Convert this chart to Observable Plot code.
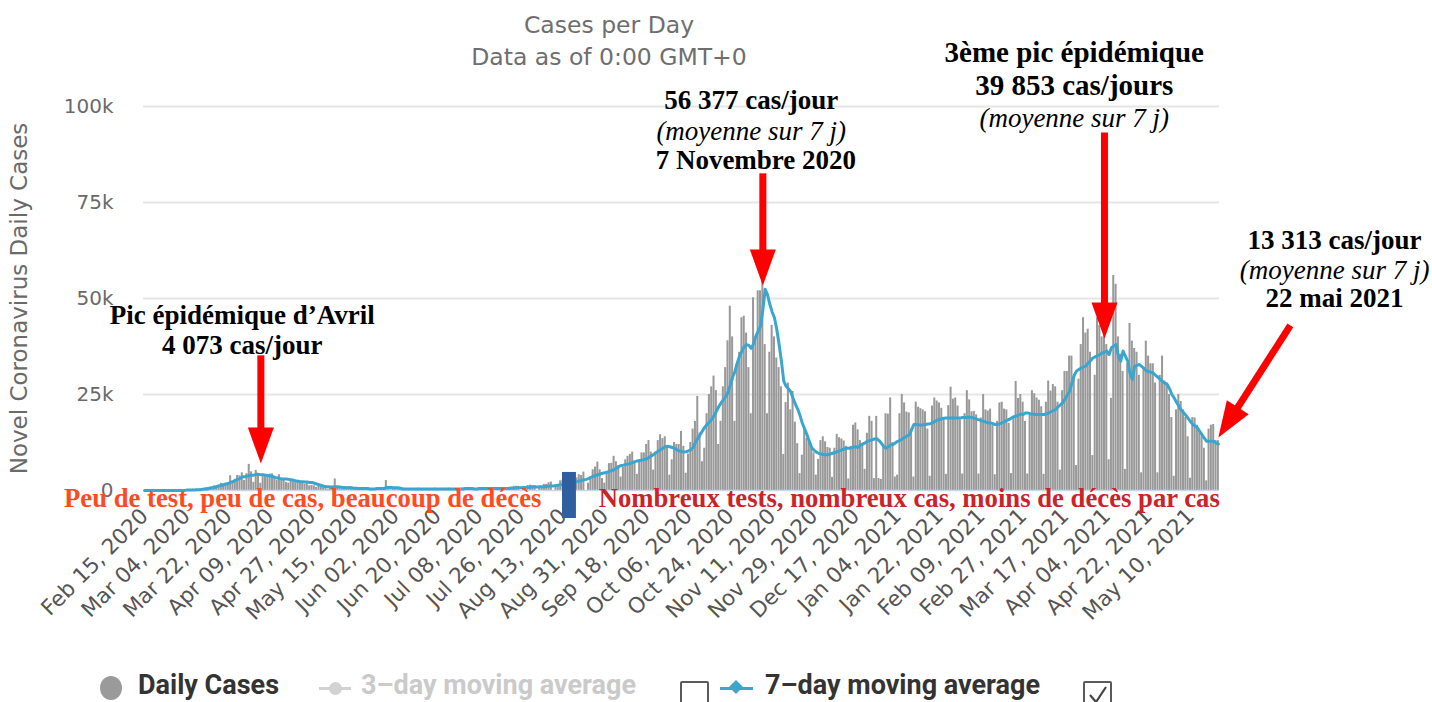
<!DOCTYPE html>
<html><head><meta charset="utf-8">
<script src="https://cdn.jsdelivr.net/npm/d3@7"></script>
<script src="https://cdn.jsdelivr.net/npm/@observablehq/plot@0.6"></script>
<style>
body{margin:0;background:#fff;}
#wrap{position:relative;width:1432px;height:702px;overflow:hidden;font-family:"DejaVu Sans",sans-serif;}
#wrap svg{position:absolute;left:0;top:0;}
.title{position:absolute;left:359px;width:500px;text-align:center;color:#6e6e6e;font-size:23.5px;line-height:28px;white-space:nowrap;}
.lt{position:absolute;top:671px;font:bold 27px Roboto,sans-serif;line-height:28px;white-space:nowrap;}
.abs{position:absolute;}
.cb{position:absolute;top:681px;width:25px;height:25px;border:2px solid #5a5a5a;border-radius:2px;background:#fff;}
</style></head>
<body><div id="wrap">
<div class="title" style="top:11px">Cases per Day</div>
<div class="title" style="top:43px">Data as of 0:00 GMT+0</div>
</div>
<script>
// ---- data (France, daily new cases, from 2020-02-15) ----
const startDate = "2020-02-15";
const daily = [
1,0,0,0,0,0,0,
0,0,0,2,4,20,19,
43,30,61,21,73,138,190,
336,177,286,372,497,595,785,
838,924,1210,1097,1404,1861,1617,
1847,1559,3838,2446,2931,3922,3809,
4611,2599,4376,6800,4861,2116,5233,
4267,1873,3912,3777,3881,4286,4342,
3114,2673,4100,2633,2641,2118,1909,
2569,2583,2052,2667,1827,2221,1645,
1843,1200,1300,1200,800,1100,900,
700,500,300,800,1100,3000,600,
500,300,400,500,1000,900,600,
400,300,200,500,600,500,400,
300,100,400,300,600,500,2600,
400,200,300,300,700,600,600,
500,0,300,400,500,500,600,
400,0,300,500,400,500,600,
500,0,300,400,500,600,500,
500,0,400,500,600,600,500,
600,0,300,500,700,600,600,
600,0,400,500,800,700,600,
700,0,400,600,900,1100,1100,
1100,0,500,800,1300,1400,1300,
1300,0,600,1000,1600,1600,2000,
2200,0,800,1400,2500,2700,2800,
2900,0,1200,1900,3300,4100,3900,
4800,0,1900,3300,5400,6100,7400,
5400,3100,1900,4900,7000,7100,8900,
7500,6500,3500,6000,8000,8900,9400,
10000,7200,4200,7800,9800,9800,12000,
13000,10000,5300,10000,13000,14500,13500,
14000,11000,4000,8000,12500,12000,12000,
15400,11500,4500,9500,12500,16000,18000,
24500,15000,7500,11000,20000,25000,27000,
29800,26000,12000,18000,27000,32000,39000,
48000,40000,18000,33000,36000,45000,45400,
41000,32000,20000,50200,40000,52000,52000,
58000,38000,20000,36000,43000,40000,34500,
32000,27000,9400,22900,28000,21000,25800,
17800,12200,4400,9200,16300,13600,12500,
11000,9800,4000,8100,13000,14000,12700,
11200,11000,3400,11000,14600,13750,13400,
12900,11500,3000,11500,17000,17600,15800,
13000,12300,5500,14900,19300,18000,3100,
19300,3100,2900,11400,20000,19900,24100,
12500,3500,4000,20000,25000,22800,20400,
20200,16000,3500,23000,21700,21300,21000,
20500,16000,3700,22000,24100,23300,22800,
21400,18400,4200,22100,26900,23800,24100,
22000,18400,4300,20000,26000,23600,20500,
20600,19700,4300,18900,25000,21000,20700,
21200,17000,4100,18000,22800,23000,21200,
21000,17500,4400,19300,28400,24000,25000,
23000,18000,4300,20000,26000,25200,24100,
23500,21800,4200,23000,28500,25900,27600,
27000,23000,5300,26000,31000,31000,35000,
35000,30000,6500,29000,38000,45000,41000,
42000,36000,9100,30000,45000,43000,40000,
43000,38000,8000,24000,56000,53700,40000,
35500,31000,5500,33000,43500,38900,37000,
36000,30000,4600,32000,38900,35000,33000,
33000,28000,4600,30000,35000,28500,28000,
25000,19000,3700,21000,25000,23200,21000,
19000,14000,3200,19000,18900,17000,15000,
14000,11000,2500,16000,17000,17200,13000,
13000
];
// 7-day moving average, thousands of cases
const avg7k = [
0,0,0,0,0,0,0,
0,0,0,0,0,0,0,
0,0,0,0,0.1,0.1,0.1,
0.1,0.2,0.2,0.2,0.3,0.4,0.4,
0.6,0.7,0.8,1.0,1.2,1.3,1.5,
1.7,1.8,2.1,2.3,2.6,2.9,3.1,
3.5,3.6,3.7,3.9,4.0,4.0,4.2,
4.2,4.1,4.1,4.0,3.9,3.8,3.7,
3.4,3.3,3.1,3.0,3.0,3.0,2.9,
2.8,2.7,2.5,2.4,2.3,2.3,2.2,
2.2,2.1,2.1,1.9,1.7,1.5,1.3,
1.1,1.0,1.0,0.9,0.9,1.0,1.0,
0.9,0.8,0.8,0.7,0.7,0.7,0.6,
0.6,0.5,0.5,0.5,0.5,0.5,0.4,
0.4,0.4,0.5,0.5,0.5,0.5,0.8,
0.8,0.8,0.7,0.7,0.7,0.6,0.4,
0.4,0.4,0.4,0.4,0.4,0.4,0.4,
0.4,0.4,0.4,0.4,0.4,0.4,0.4,
0.4,0.4,0.4,0.4,0.4,0.4,0.4,
0.4,0.4,0.4,0.4,0.4,0.5,0.5,
0.5,0.5,0.4,0.4,0.5,0.5,0.5,
0.5,0.5,0.5,0.5,0.5,0.5,0.5,
0.5,0.5,0.5,0.6,0.6,0.6,0.7,
0.7,0.7,0.8,0.8,0.8,0.9,0.9,
0.9,0.9,1.0,1.0,1.0,1.1,1.1,
1.2,1.2,1.3,1.4,1.5,1.6,1.7,
1.8,1.9,2.0,2.1,2.3,2.5,2.6,
2.8,2.9,3.1,3.4,3.7,3.9,4.1,
4.3,4.5,4.6,4.8,5.0,5.2,5.4,
5.8,6.2,6.5,6.6,6.8,6.9,7.0,
7.3,7.5,7.7,7.8,7.9,8.1,8.2,
8.6,9.0,9.4,9.8,10.2,10.6,11.0,
11.4,11.5,11.4,11.2,11.0,10.6,10.3,
10.2,10.0,10.1,10.3,10.6,11.2,12.5,
13.6,14.5,15.5,16.5,17.2,17.8,18.5,
19.5,20.6,21.8,22.8,23.6,24.4,25.5,
27.5,29.5,31.0,33.2,35.0,36.3,37.5,
38.0,37.8,37.0,38.2,40.2,41.5,42.8,
47.0,52.4,51.0,48.5,46.5,45.0,42.0,
38.0,33.7,28.5,27.2,26.5,25.8,24.0,
22.5,21.2,19.5,17.5,16.0,14.5,12.8,
11.2,10.5,10.0,9.7,9.5,9.4,9.3,
9.3,9.5,9.7,9.9,10.1,10.3,10.6,
10.8,11.0,11.0,11.1,11.3,11.4,11.2,
11.8,12.1,12.4,12.8,13.0,13.2,13.4,
13.5,13.0,12.3,11.5,11.0,11.4,11.9,
12.0,12.4,12.8,13.0,13.4,13.8,14.2,
14.5,15.8,17.2,17.2,17.1,17.0,17.1,
17.2,17.3,17.4,17.6,18.0,18.3,18.5,
18.7,18.8,18.9,18.9,18.9,18.9,18.9,
18.9,18.9,19.0,19.0,19.1,19.1,19.0,
18.8,18.6,18.4,18.2,18.0,17.8,17.6,
17.6,17.4,17.2,17.2,17.4,17.6,17.9,
18.3,18.5,18.9,19.2,19.4,19.6,19.9,
19.8,20.2,20.2,20.0,19.9,19.8,19.8,
19.8,19.8,19.8,19.9,20.2,20.5,20.8,
21.1,21.8,22.3,22.8,23.8,24.8,25.8,
28.0,30.0,31.1,31.5,31.9,32.2,32.4,
33.2,33.8,34.5,34.8,35.1,35.4,35.8,
36.0,36.3,35.4,37.2,37.6,38.0,35.0,
33.7,36.3,35.0,33.7,30.5,28.9,32.4,
32.6,32.8,32.3,31.8,31.1,31.0,30.8,
30.6,30.0,29.5,28.9,28.4,28.0,27.6,
26.5,25.0,24.1,23.0,22.0,21.0,20.3,
19.6,18.8,18.0,17.2,16.8,16.3,15.4,
14.5,13.6,12.8,12.8,12.8,12.8,12.4,
12.1
];
const tickDates = ["2020-02-15","2020-03-04","2020-03-22","2020-04-09","2020-04-27","2020-05-15","2020-06-02","2020-06-20","2020-07-08","2020-07-26","2020-08-13","2020-08-31","2020-09-18","2020-10-06","2020-10-24","2020-11-11","2020-11-29","2020-12-17","2021-01-04","2021-01-22","2021-02-09","2021-02-27","2021-03-17","2021-04-04","2021-04-22","2021-05-10"];
const yTicks = [0,25000,50000,75000,100000];

// annotations (anchored in data coordinates)
const annoBold = [
 {x:"2020-03-28", y:45600, text:"Pic épidémique d’Avril", size:27},
 {x:"2020-03-28", y:37800, text:"4 073 cas/jour", size:27},
 {x:"2020-11-02", y:101600, text:"56 377 cas/jour", size:27},
 {x:"2020-11-04", y:85900, text:"7 Novembre 2020", size:27},
 {x:"2021-03-21", y:114100, text:"3ème pic épidémique", size:29},
 {x:"2021-03-21", y:105500, text:"39 853 cas/jours", size:29},
 {x:"2021-07-11", y:65100, text:"13 313 cas/jour", size:27},
 {x:"2021-07-11", y:50000, text:"22 mai 2021", size:27}
];
const annoItalic = [
 {x:"2020-11-02", y:93500, text:"(moyenne sur 7 j)"},
 {x:"2021-03-21", y:96900, text:"(moyenne sur 7 j)"},
 {x:"2021-07-11", y:57300, text:"(moyenne sur 7 j)"}
];
const periodLabels = [
 {x:"2020-04-23", y:-2100, text:"Peu de test, peu de cas, beaucoup de décès", color:"#ff4b1f"},
 {x:"2021-01-09", y:-2100, text:"Nombreux tests, nombreux cas, moins de décès par cas", color:"#cc2229"}
];
const arrows = [
 {x1:"2020-04-05", y1:35200, x2:"2020-04-05", y2:13000, tx:"2020-04-05", ty:7000, angle:0},
 {x1:"2020-11-07", y1:82600, x2:"2020-11-07", y2:59400, tx:"2020-11-07", ty:53400, angle:0},
 {x1:"2021-04-03", y1:93200, x2:"2021-04-03", y2:45600, tx:"2021-04-03", ty:39600, angle:0},
 {x1:"2021-06-22", y1:43000, x2:"2021-05-28T02:00Z", y2:19500, tx:"2021-05-22", ty:13800, angle:32.7}
];
const divider = [{x1:"2020-08-12T19:00Z", x2:"2020-08-18T19:00Z", y1:-7300, y2:4700}];

// ---- build ----
const DAY = 864e5;
const t0 = Date.parse(startDate + "T00:00Z");
const D = s => new Date(s.length === 10 ? s + "T00:00Z" : s);
const rows = daily.map((v, i) => ({date: new Date(t0 + i*DAY), cases: v, avg: avg7k[i]*1000}));
const xDomain = [new Date(t0 - DAY/2), new Date(t0 + (daily.length - 0.5)*DAY)];
const fmt = d3.utcFormat("%b %d, %Y");
const arrowHead = {draw(ctx){ ctx.moveTo(0,0); ctx.lineTo(-13,-36); ctx.lineTo(13,-36); ctx.closePath(); }};
const serif = "'Liberation Serif','Times New Roman',serif";

const chart = Plot.plot({
  width: 1432, height: 660,
  marginLeft: 143, marginRight: 213, marginTop: 106, marginBottom: 170,
  x: {type: "utc", domain: xDomain},
  y: {domain: [0, 100000]},
  style: {fontFamily: "'DejaVu Sans', sans-serif", background: "transparent", overflow: "visible"},
  marks: [
    Plot.ruleY(yTicks.filter(d => d > 0), {stroke: "#e6e6e6", strokeWidth: 2}),
    Plot.rectY(rows, {x1: d => new Date(+d.date - DAY/2), x2: d => new Date(+d.date + DAY/2), y: "cases", fill: "#999999", insetLeft: 0.15, insetRight: 0.15}),
    Plot.ruleY([0], {stroke: "#ccd6eb", strokeWidth: 1.5}),
    Plot.line(rows, {x: "date", y: "avg", stroke: "#3aa6cf", strokeWidth: 3}),
    Plot.axisY(yTicks, {tickFormat: d => d === 0 ? "0" : d/1000 + "k", tickSize: 0, tickPadding: 30, fontSize: 20, color: "#6a6a6a",
      label: "Novel Coronavirus Daily Cases", labelAnchor: "center", labelOffset: 133, labelArrow: "none"}),
    Plot.axisX(tickDates.map(D), {tickFormat: fmt, tickRotate: -45, tickSize: 0, tickPadding: 22, fontSize: 21.5, color: "#555", label: null}),
    Plot.rect(divider, {x1: d => D(d.x1), x2: d => D(d.x2), y1: "y1", y2: "y2", fill: "#305f9f"}),
    Plot.text(periodLabels, {x: d => D(d.x), y: "y", text: "text", fill: "color", fontFamily: serif, fontWeight: "bold", fontSize: 26.7}),
    Plot.link(arrows, {x1: d => D(d.x1), y1: "y1", x2: d => D(d.x2), y2: "y2", stroke: "#ff0000", strokeWidth: 7}),
    Plot.dot(arrows, {x: d => D(d.tx), y: "ty", symbol: arrowHead, r: 10, fill: "#ff0000", stroke: "none", rotate: "angle"}),
    Plot.text(annoBold, {x: d => D(d.x), y: "y", text: "text", fill: "#000", fontFamily: serif, fontWeight: "bold", fontSize: d => d.size}),
    Plot.text(annoItalic, {x: d => D(d.x), y: "y", text: "text", fill: "#000", fontFamily: serif, fontStyle: "italic", fontSize: 27})
  ]
});
const wrap = document.getElementById("wrap");
wrap.insertBefore(chart, wrap.firstChild);
// enlarge only the rotated y-axis title
chart.querySelectorAll("text").forEach(t => {
  if (t.textContent === "Novel Coronavirus Daily Cases") t.setAttribute("font-size", "23");
});

// ---- legend ----
const legend = document.createElement("div");
legend.innerHTML = `
<div class="abs" style="left:100px;top:676px;width:22px;height:24px;border-radius:50%;background:#9a9a9a"></div>
<div class="lt" style="left:138px;color:#333">Daily Cases</div>
<div class="abs" style="left:319px;top:687px;width:32px;height:3px;background:#d2d2d2"></div>
<div class="abs" style="left:329px;top:682px;width:13px;height:13px;border-radius:50%;background:#d2d2d2"></div>
<div class="lt" style="left:361px;color:#cacaca">3–day moving average</div>
<div class="cb" style="left:680px"></div>
<div class="abs" style="left:720px;top:687px;width:33px;height:3px;background:#3aa6cf"></div>
<div class="abs" style="left:731px;top:682px;width:10px;height:10px;background:#3aa6cf;transform:rotate(45deg)"></div>
<div class="lt" style="left:765px;color:#333">7–day moving average</div>
<div class="cb" style="left:1083px"><svg width="25" height="25" style="position:absolute;left:0;top:0"><path d="M5 12 L11 19 L21 4" fill="none" stroke="#444" stroke-width="2.2"/></svg></div>
`;
wrap.appendChild(legend);
</script>
</body></html>
